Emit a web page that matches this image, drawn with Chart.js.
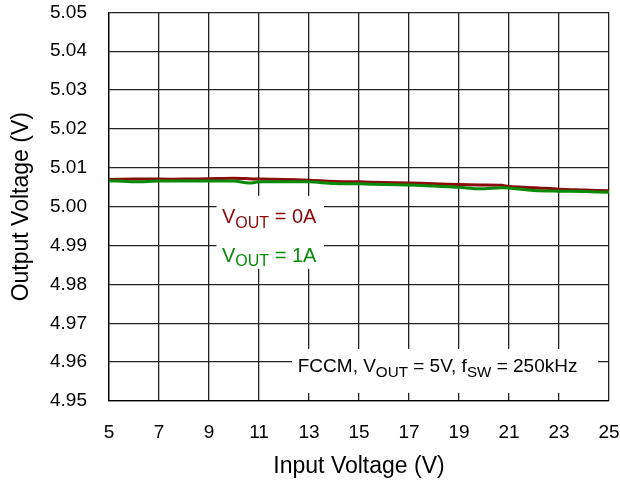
<!DOCTYPE html>
<html>
<head>
<meta charset="utf-8">
<script src="https://cdn.jsdelivr.net/npm/chart.js@4.4.1/dist/chart.umd.min.js"></script>
<style>
  html, body { margin: 0; padding: 0; background: #fff; }
  #wrap { width: 620px; height: 484px; position: relative; }
</style>
</head>
<body>
<div id="wrap"><canvas id="myChart"></canvas></div>
<script>
// input voltage (V)
const inputVoltage = [5, 6, 7, 8, 9, 10, 10.6, 11, 12, 13, 14, 15, 16, 17, 18, 19, 19.8, 20.7, 21, 22, 23, 24, 25];
// output voltage (V), 0A load
const vout0A = [5.0070, 5.0071, 5.0071, 5.0071, 5.0072, 5.0073, 5.0072, 5.0071, 5.0070, 5.0068, 5.0065, 5.0064, 5.0062, 5.0061, 5.0059, 5.0057, 5.0056, 5.0055, 5.0052, 5.0049, 5.0045, 5.0043, 5.0041];
// output voltage (V), 1A load
const vout1A = [5.0067, 5.0064, 5.0066, 5.0066, 5.0066, 5.0066, 5.0061, 5.0064, 5.0064, 5.0064, 5.0060, 5.0059, 5.0057, 5.0056, 5.0053, 5.0050, 5.0046, 5.0049, 5.0048, 5.0042, 5.0040, 5.0039, 5.0037];

const xTicks = [5, 7, 9, 11, 13, 15, 17, 19, 21, 23, 25];
const yMin = 4.95, yMax = 5.05, yStep = 0.01;

const RED = '#8b0a0a';
const GREEN = '#0a8a0a';
const FONT = 'Arial, "Liberation Sans", sans-serif';

// draw text pieces, some as subscript, returns end x
function subText(ctx, x, y, parts, size) {
  ctx.textBaseline = 'middle';
  ctx.textAlign = 'left';
  parts.forEach(p => {
    const fs = p.sub ? size * 0.8 : size;
    ctx.font = fs + 'px ' + FONT;
    ctx.fillText(p.t, x, y + (p.sub ? size * 0.3 : 0));
    x += ctx.measureText(p.t).width;
  });
  return x;
}

const annotations = {
  id: 'annotations',
  afterDatasetsDraw(chart) {
    const ctx = chart.ctx;
    const xs = chart.scales.x, ys = chart.scales.y;
    ctx.save();
    // white box behind the load labels
    ctx.fillStyle = '#fff';
    let l = xs.getPixelForValue(9.3), r = xs.getPixelForValue(13.6);
    let t = ys.getPixelForValue(5.0028), b = ys.getPixelForValue(4.984);
    ctx.fillRect(l, t, r - l, b - t);

    ctx.fillStyle = RED;
    subText(ctx, xs.getPixelForValue(9.52), ys.getPixelForValue(4.9971),
      [{t: 'V'}, {t: 'OUT', sub: true}, {t: ' = 0A'}], 20);
    ctx.fillStyle = GREEN;
    subText(ctx, xs.getPixelForValue(9.52), ys.getPixelForValue(4.9873),
      [{t: 'V'}, {t: 'OUT', sub: true}, {t: ' = 1A'}], 20);

    // condition box
    l = xs.getPixelForValue(12.32); r = xs.getPixelForValue(24.56);
    t = ys.getPixelForValue(4.9634); b = ys.getPixelForValue(4.9521);
    ctx.fillStyle = '#fff';
    ctx.fillRect(l, t, r - l, b - t);
    ctx.fillStyle = '#000';
    subText(ctx, xs.getPixelForValue(12.55), ys.getPixelForValue(4.9588),
      [{t: 'FCCM, V'}, {t: 'OUT', sub: true}, {t: ' = 5V, f'}, {t: 'SW', sub: true}, {t: ' = 250kHz'}], 19);
    ctx.restore();
  }
};

const ctx = document.getElementById('myChart').getContext('2d');
new Chart(ctx, {
  type: 'line',
  data: {
    datasets: [
      {
        label: 'VOUT = 1A',
        data: inputVoltage.map((v, i) => ({ x: v, y: vout1A[i] })),
        borderColor: GREEN,
        borderWidth: 3,
        pointRadius: 0,
        tension: 0.3
      },
      {
        label: 'VOUT = 0A',
        data: inputVoltage.map((v, i) => ({ x: v, y: vout0A[i] })),
        borderColor: RED,
        borderWidth: 3,
        pointRadius: 0,
        tension: 0.3
      }
    ]
  },
  options: {
    responsive: true,
    maintainAspectRatio: false,
    animation: false,
    layout: { padding: { top: 12, right: 11, left: 0, bottom: 0 } },
    scales: {
      x: {
        type: 'linear',
        min: 5,
        max: 25,
        afterBuildTicks: s => { s.ticks = xTicks.map(v => ({ value: v })); },
        afterFit: s => { s.height = 83; },
        // transparent tick marks give the label gap without extra layout padding
        grid: { color: '#222', lineWidth: 1.3, drawTicks: true, tickLength: 20, tickColor: 'rgba(0,0,0,0)' },
        border: { color: '#000', width: 1.3 },
        ticks: { color: '#000', padding: 0, font: { size: 19, family: FONT }, maxRotation: 0 },
        title: { display: true, text: 'Input Voltage (V)', color: '#000', font: { size: 23, family: FONT }, padding: { top: 6 } }
      },
      y: {
        min: yMin,
        max: yMax,
        afterFit: s => { s.width = 109; },
        grid: { color: '#222', lineWidth: 1.3, drawTicks: true, tickLength: 21, tickColor: 'rgba(0,0,0,0)' },
        border: { color: '#000', width: 1.3 },
        ticks: {
          stepSize: yStep,
          color: '#000',
          padding: 1,
          font: { size: 19, family: FONT },
          callback: v => v.toFixed(2)
        },
        title: { display: true, text: 'Output Voltage (V)', color: '#000', font: { size: 23, family: FONT }, padding: { bottom: 0, top: 8 } }
      }
    },
    plugins: {
      legend: { display: false },
      tooltip: { enabled: false }
    }
  },
  plugins: [annotations]
});
</script>
</body>
</html>
